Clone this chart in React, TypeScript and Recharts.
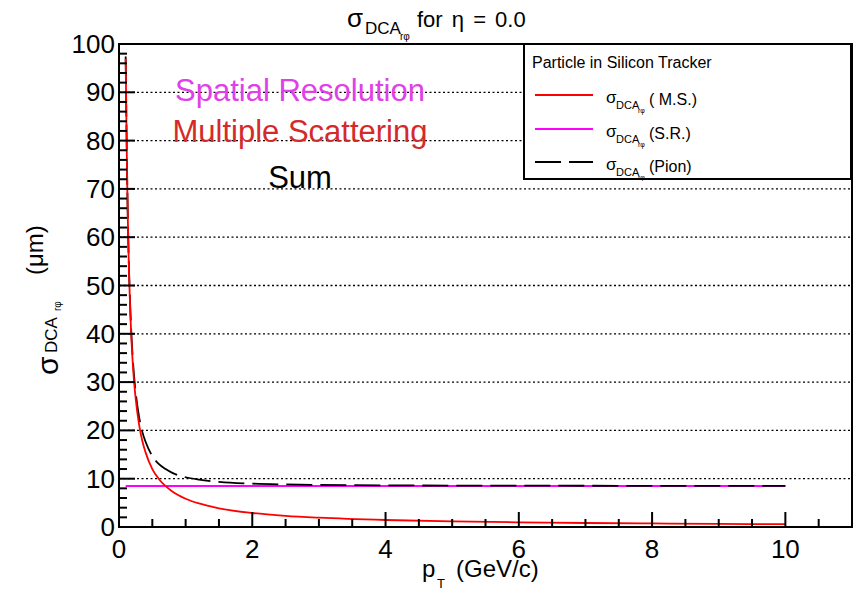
import React from 'react';
import { LineChart, Line, XAxis, YAxis, CartesianGrid, ReferenceArea, Legend } from 'recharts';

// pT (GeV/c) sample points and sigma_DCA values (um)
const ptValues = [0.1, 0.11, 0.12, 0.13, 0.14, 0.15, 0.17, 0.19, 0.22, 0.25, 0.3, 0.35, 0.4, 0.5, 0.6, 0.7, 0.8, 1.0, 1.2, 1.5, 2, 2.5, 3, 4, 5, 6, 7, 8, 9, 10];
const msValues = [97, 85.2, 74.2, 65.5, 58.5, 52.8, 44.2, 37.9, 31.2, 26.6, 21.3, 17.8, 15.4, 12.0, 9.9, 8.45, 7.36, 5.86, 4.87, 3.88, 2.9, 2.32, 1.94, 1.45, 1.16, 0.97, 0.83, 0.73, 0.64, 0.58];
const srValues = [8.5, 8.5, 8.5, 8.5, 8.5, 8.5, 8.5, 8.5, 8.5, 8.5, 8.5, 8.5, 8.5, 8.5, 8.5, 8.5, 8.5, 8.5, 8.5, 8.5, 8.5, 8.5, 8.5, 8.5, 8.5, 8.5, 8.5, 8.5, 8.5, 8.5];
const sumValues = [97.4, 85.6, 74.7, 66.0, 59.1, 53.5, 45.0, 38.8, 32.3, 27.9, 22.9, 19.7, 17.6, 14.7, 13.0, 12.0, 11.2, 10.3, 9.8, 9.35, 8.98, 8.81, 8.72, 8.62, 8.58, 8.56, 8.54, 8.53, 8.52, 8.52];

const xTicks = [0, 0.5, 1, 1.5, 2, 2.5, 3, 3.5, 4, 4.5, 5, 5.5, 6, 6.5, 7, 7.5, 8, 8.5, 9, 9.5, 10, 10.5, 11];
const xLabelTicks = [0, 2, 4, 6, 8, 10];
const yTicks = [0, 2, 4, 6, 8, 10, 12, 14, 16, 18, 20, 22, 24, 26, 28, 30, 32, 34, 36, 38, 40, 42, 44, 46, 48, 50, 52, 54, 56, 58, 60, 62, 64, 66, 68, 70, 72, 74, 76, 78, 80, 82, 84, 86, 88, 90, 92, 94, 96, 98, 100];
const yLabelTicks = [0, 10, 20, 30, 40, 50, 60, 70, 80, 90, 100];
const yGridTicks = [10, 20, 30, 40, 50, 60, 70, 80, 90];

const legendEntries = [
    { key: 'ms', label: '( M.S.)' },
    { key: 'sr', label: '(S.R.)' },
    { key: 'sum', label: '(Pion)' },
];

const FONT = '"Liberation Sans", Arial, Helvetica, sans-serif';
const RED = '#ff0000';
const MAGENTA = '#ff00ff';
const PION_DASH = '26 8';

const chartData = ptValues.map((pt, i) => ({ pt, ms: msValues[i], sr: srValues[i], sum: sumValues[i] }));

const lineStyle: Record<string, { stroke: string; dash?: string }> = {
    ms: { stroke: RED },
    sr: { stroke: MAGENTA },
    sum: { stroke: '#000', dash: PION_DASH },
};

function XTick(props: any) {
    const { x, y, payload } = props;
    const major = xLabelTicks.includes(payload.value);
    return (
        <g>
            <line x1={x} x2={x} y1={y} y2={y - (major ? 15 : 8)} stroke="#000" strokeWidth={2} />
            {major && (
                <text x={x} y={y + 31} textAnchor="middle" fontSize={26} fontFamily={FONT} fill="#000">
                    {payload.value}
                </text>
            )}
        </g>
    );
}

function YTick(props: any) {
    const { x, y, payload } = props;
    const major = yLabelTicks.includes(payload.value);
    return (
        <g>
            <line x1={x} x2={x + (major ? 16 : 8)} y1={y} y2={y} stroke="#000" strokeWidth={2} />
            {major && (
                <text x={x - 4} y={y + 9} textAnchor="end" fontSize={26} fontFamily={FONT} fill="#000">
                    {payload.value}
                </text>
            )}
        </g>
    );
}

function LegendBox() {
    const rows = [52, 86, 119];
    return (
        <svg width={330} height={138} style={{ display: 'block' }}>
            <rect x={1} y={1} width={327} height={135} fill="#fff" stroke="#000" strokeWidth={2} />
            <text x={9} y={25} fontSize={16} fontFamily={FONT} fill="#000">Particle in Silicon Tracker</text>
            {legendEntries.map((entry, i) => {
                const ly = rows[i];
                const st = lineStyle[entry.key];
                return (
                    <g key={entry.key}>
                        <line x1={12} x2={70} y1={ly} y2={ly} stroke={st.stroke} strokeWidth={2} strokeDasharray={st.dash} />
                        <text fontFamily={FONT} fill="#000">
                            <tspan x={83} y={ly + 8} fontSize={17}>σ</tspan>
                            <tspan x={93} y={ly + 14} fontSize={11}>DCA</tspan>
                            <tspan x={115} y={ly + 18} fontSize={7}>rφ</tspan>
                            <tspan x={126} y={ly + 10} fontSize={16}>{entry.label}</tspan>
                        </text>
                    </g>
                );
            })}
        </svg>
    );
}

function Overlay() {
    return (
        <svg width={860} height={590} style={{ position: 'absolute', left: 0, top: 0, pointerEvents: 'none' }}>
            {/* title */}
            <text fontFamily={FONT} fill="#000">
                <tspan x={347} y={27} fontSize={26}>σ</tspan>
                <tspan x={365} y={34} fontSize={17}>DCA</tspan>
                <tspan x={400} y={40} fontSize={10}>rφ</tspan>
                <tspan x={417} y={27} fontSize={22} wordSpacing={3}>for η = 0.0</tspan>
            </text>
            {/* y title */}
            <g transform="translate(43,375) rotate(-90)">
                <text fontFamily={FONT} fill="#000">
                    <tspan x={0} y={15} fontSize={30}>σ</tspan>
                    <tspan x={22} y={14} fontSize={17}>DCA</tspan>
                    <tspan x={64} y={18} fontSize={10}>rφ</tspan>
                    <tspan x={100} y={0} fontSize={24}>(μm)</tspan>
                </text>
            </g>
            {/* x title */}
            <text fontFamily={FONT} fill="#000">
                <tspan x={422} y={577} fontSize={24}>p</tspan>
                <tspan x={437} y={588} fontSize={13}>T</tspan>
                <tspan x={456} y={577} fontSize={24}>(GeV/c)</tspan>
            </text>
            {/* annotations */}
            <text x={300} y={101} textAnchor="middle" fontSize={31} fontFamily={FONT} fill="#e040e8">Spatial Resolution</text>
            <text x={300} y={142} textAnchor="middle" fontSize={31} fontFamily={FONT} fill="#d42a2a">Multiple Scattering</text>
            <text x={300} y={188} textAnchor="middle" fontSize={31} fontFamily={FONT} fill="#000">Sum</text>
        </svg>
    );
}

export default function App() {
    return (
        <div style={{ position: 'fixed', left: 0, top: 0, width: 860, height: 590, background: '#fff', fontFamily: FONT }}>
            <LineChart width={860} height={590} data={chartData} margin={{ top: 44, right: 8, left: 0, bottom: 0 }}>
                <CartesianGrid
                    vertical={false}
                    horizontalValues={yGridTicks}
                    stroke="#000"
                    strokeWidth={1.3}
                    strokeDasharray="2 2.5"
                />
                <XAxis
                    dataKey="pt"
                    type="number"
                    domain={[0, 11]}
                    ticks={xTicks}
                    interval={0}
                    height={63}
                    tickSize={0}
                    tickMargin={0}
                    tickLine={false}
                    axisLine={{ stroke: '#000', strokeWidth: 2 }}
                    tick={<XTick />}
                    allowDataOverflow
                />
                <YAxis
                    type="number"
                    domain={[0, 100]}
                    ticks={yTicks}
                    interval={0}
                    width={119}
                    tickSize={0}
                    tickMargin={0}
                    tickLine={false}
                    axisLine={{ stroke: '#000', strokeWidth: 2 }}
                    tick={<YTick />}
                    allowDataOverflow
                />
                <ReferenceArea x1={0} x2={11} y1={0} y2={100} fill="none" stroke="#000" strokeWidth={2} />
                <Line dataKey="sr" name="S.R." stroke={MAGENTA} strokeWidth={2} dot={false} type="monotone" isAnimationActive={false} />
                <Line dataKey="sum" name="Pion" stroke="#000" strokeWidth={1.8} strokeDasharray={PION_DASH} dot={false} type="monotone" isAnimationActive={false} />
                <Line dataKey="ms" name="M.S." stroke={RED} strokeWidth={1.8} dot={false} type="monotone" isAnimationActive={false} />
                <Legend
                    layout="horizontal"
                    verticalAlign="middle"
                    align="center"
                    content={() => <LegendBox />}
                    wrapperStyle={{ left: 523, top: 43, width: 330, height: 138 }}
                />
            </LineChart>
            <Overlay />
        </div>
    );
}
